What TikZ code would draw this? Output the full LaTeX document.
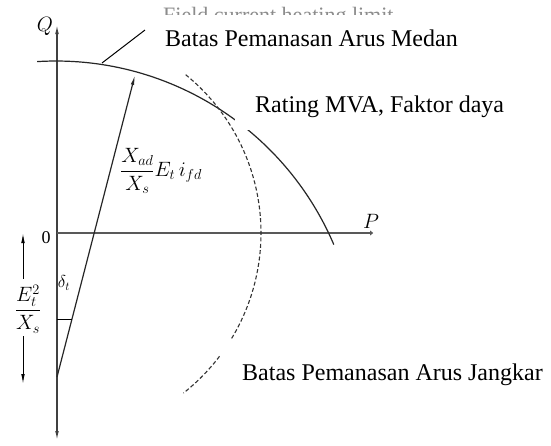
\documentclass[tikz,border=0pt]{standalone}
\usepackage{fontspec}
\setmainfont{Liberation Serif}
\usetikzlibrary{arrows.meta}
\begin{document}
\begin{tikzpicture}[x=1pt,y=-1pt,
  axis/.style={line width=1.4pt, draw=black!75},
  tipa/.style={-{Latex[length=10pt,width=3.6pt]}},
  curve/.style={line width=1.2pt, draw=black!85},
  dashcurve/.style={line width=1.1pt, draw=black!80, dash pattern=on 4pt off 2.4pt},
  lbl/.style={fill=white, inner ysep=0pt, anchor=base west, font=\fontsize{24}{24}\selectfont},
  mlbl/.style={inner sep=0pt, font=\fontsize{20}{20}\selectfont},
  ghost/.style={inner sep=0pt, anchor=base west, text=black!45, font=\fontsize{22}{22}\selectfont}]
\useasboundingbox[fill=white] (0,0) rectangle (551,445);
% points
\coordinate (O) at (57,233);
\coordinate (Qtop) at (57,24);
\coordinate (Qbot) at (57,441);
\coordinate (Pend) at (380,233);
\coordinate (V) at (57,377);
\coordinate (Fc) at (56,363);
\coordinate (T) at (135,75);
\coordinate (Tk0) at (57,319);
\coordinate (Tk) at (72,319);
\coordinate (L1) at (102,63);
\coordinate (L2) at (145,30);
\coordinate (Eup) at (23,233);
\coordinate (Edn) at (23,384);
% axes
\draw[axis,tipa] (O) -- (Qtop);
\draw[axis,tipa] (O) -- (Qbot);
\draw[axis,tipa,line width=2pt,draw=black!65] (O) -- (Pend);
% field current heating limit arc
\draw[curve] (Fc) ++(-93.6:302) arc[start angle=-93.6, end angle=-23.1, radius=302];
% armature current heating limit arc
\draw[dashcurve] (O) ++(-50.9:204) arc[start angle=-50.9, end angle=51.7, radius=204];
% phasor
\draw[curve,tipa] (V) -- (T);
\draw[line width=1pt] (Tk0) -- (Tk);
\draw[line width=1pt] (L1) -- (L2);
% math labels
\node[mlbl] (q) at (45,26) {$Q$};
\node[mlbl] (p) at (371,221) {$P$};
\node[mlbl, font=\fontsize{18}{18}\selectfont] (zero) at (46,238) {0};
\node[mlbl, anchor=west] (ph) at (120,171) {$\displaystyle\frac{X_{ad}}{X_s}E_t\,i_{fd}$};
\node[mlbl] (el) at (28,309) {$\displaystyle\frac{E_t^2}{X_s}$};
\node[mlbl, font=\fontsize{18}{18}\selectfont] (dl) at (64,283) {$\delta_t$};
\draw[line width=1pt,tipa] ([xshift=-5pt,yshift=6pt]el.north) -- (Eup);
\draw[line width=1pt,tipa] ([xshift=-5pt,yshift=-3pt]el.south) -- (Edn);
% text labels
\node[ghost] (old) at (163,22) {Field current heating limit};
\node[lbl, inner xsep=15pt, text height=31pt, text depth=12pt] (medan) at (150,46) {Batas Pemanasan Arus Medan};
\node[lbl, inner xsep=20pt, text height=24pt, text depth=18pt] (rating) at (235,112) {Rating MVA, Faktor daya};
\node[lbl, inner xsep=22pt, text height=40pt, text depth=20pt] (jangkar) at (220,380) {Batas Pemanasan Arus Jangkar};
\end{tikzpicture}
\end{document}
